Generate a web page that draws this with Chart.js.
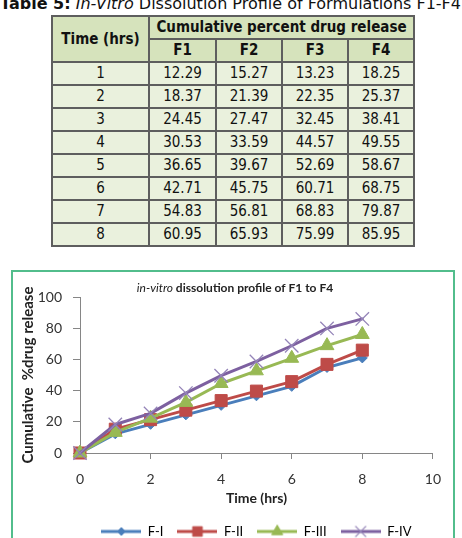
<!DOCTYPE html>
<html>
<head>
<meta charset="utf-8">
<script src="https://cdn.jsdelivr.net/npm/chart.js@4.4.1/dist/chart.umd.min.js"></script>
<style>
html, body { margin: 0; padding: 0; background: #fff; width: 462px; height: 538px; overflow: hidden; }
#caption {
    position: absolute; right: 1px; top: -6px; white-space: nowrap;
    font-family: "DejaVu Sans", sans-serif;
    font-size: 16px; color: #111;
}
#tbl {
    position: absolute; left: 51px; top: 15px; border-collapse: collapse; table-layout: fixed;
    font-family: "DejaVu Sans Condensed", "DejaVu Sans", sans-serif; font-stretch: condensed;
    font-size: 15px; color: #111;
}
#tbl td, #tbl th { border: 2px solid #5e5e5e; padding: 0; text-align: center; line-height: 19px; }
#tbl tr { height: 23px; }
#tbl th { background: #d6e3bc; font-weight: bold; }
#tbl td { background: #eaf1dd; }
#box { position: absolute; left: 11px; top: 270px; width: 440px; height: 290px; border: 2px solid #52bd8c; }
#chart { position: absolute; left: 0; top: 0; }
</style>
</head>
<body>
<div id="caption"><b>Table 5:</b> <i>In-Vitro</i> Dissolution Profile of Formulations F1-F4</div>
<table id="tbl">
<colgroup><col style="width:97px"><col style="width:67px"><col style="width:66px"><col style="width:66px"><col style="width:66px"></colgroup>
<thead>
<tr><th rowspan="2">Time (hrs)</th><th colspan="4">Cumulative percent drug release</th></tr>
<tr id="head2"></tr>
</thead>
<tbody id="rows"></tbody>
</table>
<div id="box"><canvas id="chart" width="440" height="276"></canvas></div>
<script>
var tableCols = ['F1', 'F2', 'F3', 'F4'];
var times = [1, 2, 3, 4, 5, 6, 7, 8];
var f1 = ['12.29', '18.37', '24.45', '30.53', '36.65', '42.71', '54.83', '60.95'];
var f2 = ['15.27', '21.39', '27.47', '33.59', '39.67', '45.75', '56.81', '65.93'];
var f3 = ['13.23', '22.35', '32.45', '44.57', '52.69', '60.71', '68.83', '75.99'];
var f4 = ['18.25', '25.37', '38.41', '49.55', '58.67', '68.75', '79.87', '85.95'];

var seriesNames = ['F-I', 'F-II', 'F-III', 'F-IV'];
var seriesColors = ['#4a7ebb', '#be4b48', '#98b954', '#7d60a0'];
var markerColors = ['#4a7ebb', '#be4b48', '#98b954', '#9484b8'];
var chartTitle = ['in-vitro ', 'dissolution profile of F1 to F4'];
var xTitle = 'Time (hrs)';
var yTitle = 'Cumulative  %drug release';

// table
var head2 = document.getElementById('head2');
tableCols.forEach(function (c) {
    var th = document.createElement('th');
    th.textContent = c;
    head2.appendChild(th);
});
var tbody = document.getElementById('rows');
var cols = [f1, f2, f3, f4];
for (var i = 0; i < times.length; ++i) {
    var tr = document.createElement('tr');
    var cells = [String(times[i])].concat(cols.map(function (c) { return c[i]; }));
    cells.forEach(function (v) {
        var td = document.createElement('td');
        td.textContent = v;
        tr.appendChild(td);
    });
    tbody.appendChild(tr);
}

// chart data: the plot also starts at 0 hrs / 0 %
var points = function (values) {
    var data = [{x: 0, y: 0}];
    for (var i = 0; i < times.length; ++i) {
        data.push({x: times[i], y: parseFloat(values[i])});
    }
    return data;
};

var markers = [
    {pointStyle: 'rectRot', radius: 5, borderWidth: 1},
    {pointStyle: 'rect', radius: 8.5, borderWidth: 1},
    {pointStyle: 'triangle', radius: 8, borderWidth: 1},
    {pointStyle: 'crossRot', radius: 9.5, borderWidth: 1.3}
];

var legendIcon = function (i) {
    var c = document.createElement('canvas');
    c.width = 40;
    c.height = 18;
    var g = c.getContext('2d');
    g.strokeStyle = seriesColors[i];
    g.lineWidth = 3;
    g.beginPath();
    g.moveTo(0, 9);
    g.lineTo(40, 9);
    g.stroke();
    g.fillStyle = markerColors[i];
    g.strokeStyle = markerColors[i];
    g.lineWidth = markers[i].borderWidth;
    Chart.helpers.drawPoint(g, {pointStyle: markers[i].pointStyle, radius: markers[i].radius * 0.8, rotation: 0, borderWidth: markers[i].borderWidth}, 20, 9);
    return c;
};

var mixedTitle = {
    id: 'mixedTitle',
    afterDraw: function (chart) {
        var ctx = chart.ctx;
        ctx.save();
        var italic = 'italic 12px Lato';
        var bold = 'bold 12px Lato';
        ctx.font = italic;
        var w1 = ctx.measureText(chartTitle[0]).width;
        ctx.font = bold;
        var w2 = ctx.measureText(chartTitle[1]).width;
        var x = 222 - (w1 + w2) / 2;
        ctx.textBaseline = 'middle';
        ctx.fillStyle = '#222';
        ctx.font = italic;
        ctx.fillText(chartTitle[0], x, 16);
        ctx.font = bold;
        ctx.fillText(chartTitle[1], x + w1, 16);
        ctx.restore();
    }
};

var ctx = document.getElementById('chart').getContext('2d');

new Chart(ctx, {
    type: 'line',
    data: {
        datasets: [f1, f2, f3, f4].map(function (values, i) {
            return {
                label: seriesNames[i],
                data: points(values),
                borderColor: seriesColors[i],
                backgroundColor: markerColors[i],
                pointBorderColor: markerColors[i],
                pointBackgroundColor: markerColors[i],
                pointStyle: markers[i].pointStyle,
                pointRadius: markers[i].radius,
                pointBorderWidth: markers[i].borderWidth,
                borderWidth: 3,
                borderJoinStyle: 'round',
                borderCapStyle: 'round',
                fill: false,
                clip: false,
                order: 4 - i
            };
        })
    },
    options: {
        responsive: false,
        animation: false,
        layout: {padding: {top: 25, right: 20, left: 0, bottom: 0}},
        plugins: {
            tooltip: {enabled: false},
            title: {display: false},
            legend: {
                position: 'bottom',
                fullSize: false,
                labels: {
                    usePointStyle: true,
                    pointStyleWidth: 40,
                    boxHeight: 12,
                    padding: 14,
                    color: '#222',
                    font: {family: 'Lato', size: 13},
                    generateLabels: function () {
                        return seriesNames.map(function (name, i) {
                            return {
                                text: name,
                                pointStyle: legendIcon(i),
                                fillStyle: seriesColors[i],
                                strokeStyle: seriesColors[i],
                                lineWidth: 0,
                                hidden: false,
                                datasetIndex: i
                            };
                        });
                    }
                }
            }
        },
        scales: {
            x: {
                type: 'linear',
                min: 0,
                max: 10,
                afterFit: function (scale) { scale.height = 58; },
                ticks: {stepSize: 2, padding: 12, color: '#333', font: {family: 'Lato', size: 14}},
                grid: {drawOnChartArea: false, tickLength: 6, color: '#868686'},
                border: {color: '#868686', width: 1},
                title: {display: true, text: xTitle, color: '#222', font: {family: 'Lato', size: 14, weight: 'bold'}, padding: {top: 0, bottom: 4}}
            },
            y: {
                min: 0,
                max: 100,
                afterFit: function (scale) { scale.width = 67; },
                ticks: {stepSize: 20, padding: 11, color: '#333', font: {family: 'Lato', size: 14}},
                grid: {drawOnChartArea: false, tickLength: 7, color: '#868686'},
                border: {color: '#868686', width: 1},
                title: {display: true, text: yTitle, color: '#222', font: {family: 'Lato', size: 15, weight: 'bold'}, padding: {top: 6, bottom: 0}}
            }
        }
    },
    plugins: [mixedTitle]
});
</script>
</body>
</html>
